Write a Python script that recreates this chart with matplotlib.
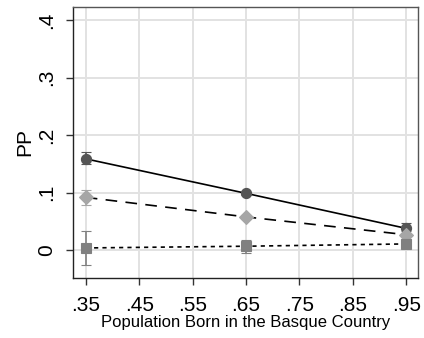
import matplotlib
matplotlib.use("Agg")
import matplotlib.pyplot as plt

plt.rcParams['font.family'] = ['Liberation Sans', 'DejaVu Sans']

# share of population born in the Basque Country
x_vals = [0.35, 0.65, 0.95]

# series 1: circles, solid line
pp_circle = [0.159, 0.099, 0.038]
lo_circle = [0.150, 0.096, 0.029]
hi_circle = [0.171, 0.102, 0.048]

# series 2: diamonds, dashed line
pp_diamond = [0.092, 0.058, 0.027]
lo_diamond = [0.079, 0.054, 0.020]
hi_diamond = [0.104, 0.062, 0.034]

# series 3: squares, dotted line
pp_square = [0.004, 0.007, 0.011]
lo_square = [-0.026, -0.004, 0.006]
hi_square = [0.034, 0.017, 0.016]

x_ticks = [0.35, 0.45, 0.55, 0.65, 0.75, 0.85, 0.95]
x_ticklabels = ['.35', '.45', '.55', '.65', '.75', '.85', '.95']
y_ticks = [0, 0.1, 0.2, 0.3, 0.4]
y_ticklabels = ['0', '.1', '.2', '.3', '.4']


def draw_series(ax, y, lo, hi, marker, color, ms, ls):
    yerr = [[v - l for v, l in zip(y, lo)], [h - v for v, h in zip(y, hi)]]
    ax.plot(x_vals, y, color='black', linestyle=ls, linewidth=1.2, zorder=3)
    ax.errorbar(x_vals, y, yerr=yerr, fmt=marker, color=color, ecolor=color,
                markersize=ms, markeredgecolor=color, markeredgewidth=0.8,
                capsize=3.8, elinewidth=1.2, capthick=1.3, zorder=4)


fig = plt.figure(figsize=(4.24, 3.38), dpi=100)
ax = fig.add_axes([0.172, 0.178, 0.814, 0.801])

draw_series(ax, pp_circle, lo_circle, hi_circle, 'o', '#555555', 7.3, '-')
draw_series(ax, pp_diamond, lo_diamond, hi_diamond, 'D', '#a6a6a6', 7, (0, (7, 5)))
draw_series(ax, pp_square, lo_square, hi_square, 's', '#808080', 7.3, (0, (2.5, 2.5)))

ax.set_xlim(0.326, 0.972)
ax.set_ylim(-0.048, 0.423)
ax.set_xticks(x_ticks)
ax.set_xticklabels(x_ticklabels, fontsize=15)
ax.set_yticks(y_ticks)
ax.set_yticklabels(y_ticklabels, fontsize=15, rotation=90, va='center')
ax.grid(True, color='#e2e2e2', linewidth=1.4)
ax.set_axisbelow(True)
ax.tick_params(length=5, width=1, color='#333333')
ax.tick_params(axis='x', pad=8)
ax.tick_params(axis='y', pad=7)

for s in ax.spines.values():
    s.set_color('#555555')
    s.set_linewidth(1)
ax.spines['left'].set_color('#222222')
ax.spines['bottom'].set_color('#222222')

ax.set_ylabel('PP', fontsize=15, labelpad=2)
ax.set_xlabel('Population Born in the Basque Country', fontsize=12, labelpad=0)

fig.savefig('out.png', dpi=100)
